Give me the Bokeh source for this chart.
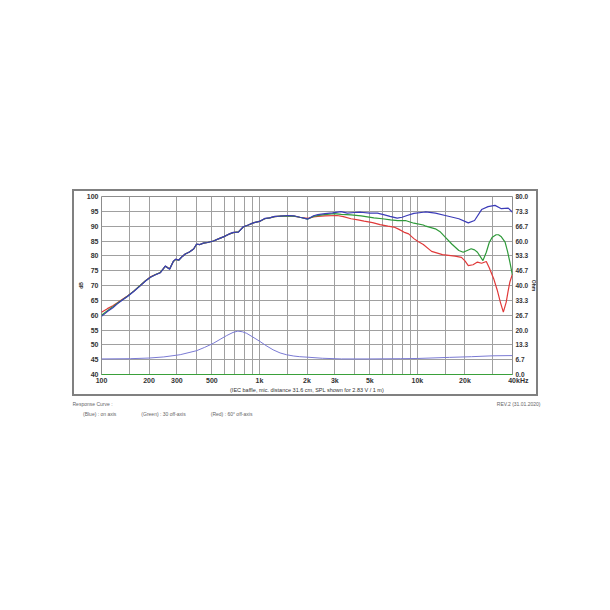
from bokeh.plotting import figure
from bokeh.layouts import column, row
from bokeh.models import (Range1d, LinearAxis, FixedTicker, Label,
                          Legend, LegendItem, NumeralTickFormatter)
from bokeh.embed import file_html
from bokeh.resources import INLINE

# ---------------- data ----------------
freq_on = [100, 109, 118, 126, 135, 146, 160, 175, 190, 204, 220, 236, 254, 262, 270, 285, 295, 308,
           325, 339, 360, 383, 400, 420, 442, 470, 511, 550, 591, 640, 683, 736, 789, 850, 913, 1000,
           1080, 1160, 1250, 1350, 1510, 1650, 1800, 2025, 2200, 2340, 2600, 2900, 3280, 3600, 4000,
           4380, 5000, 5580, 6100, 6700, 7450, 8000, 8600, 9500, 10900, 11300, 13000, 15000, 18300,
           21000, 23000, 25500, 28000, 31000, 34000, 37600, 40000]
spl_on = [59.6, 61.2, 62.5, 63.8, 65.0, 66.3, 68.0, 69.8, 71.5, 72.8, 73.6, 74.3, 76.6, 76.0, 75.5, 78.2,
          78.9, 78.5, 79.8, 80.6, 81.3, 82.3, 84.0, 83.8, 84.3, 84.5, 85.0, 85.7, 86.4, 87.3, 87.9, 88.0,
          89.8, 90.4, 91.1, 91.6, 92.6, 92.8, 93.3, 93.4, 93.6, 93.5, 93.0, 92.4, 93.5, 93.9, 94.2, 94.5,
          94.9, 94.4, 94.6, 94.7, 94.4, 94.4, 93.9, 93.3, 92.7, 93.0, 93.6, 94.3, 94.7, 94.8, 94.4, 93.6,
          92.5, 91.1, 91.9, 95.6, 96.6, 97.0, 95.9, 96.1, 94.7]

freq_30 = [100, 109, 118, 126, 135, 146, 160, 175, 190, 204, 220, 236, 254, 262, 270, 285, 295, 308,
           325, 339, 360, 383, 400, 420, 442, 470, 511, 550, 591, 640, 683, 736, 789, 850, 913, 1000,
           1080, 1160, 1250, 1350, 1510, 1650, 1800, 2025, 2200, 2500, 2970, 3300, 3800, 4400, 5300,
           6000, 6760, 7500, 8400, 9500, 10900, 11300, 13000, 14000, 15000, 16500, 18300, 19500, 21900,
           23000, 24000, 26000, 27300, 28500, 29800, 31500, 32600, 34000, 35900, 37200, 38500, 39800, 40000]
spl_30 = [60.0, 61.5, 62.8, 64.0, 65.1, 66.4, 68.1, 69.9, 71.6, 72.8, 73.7, 74.4, 76.5, 76.0, 75.6, 78.1,
          78.8, 78.5, 79.8, 80.6, 81.3, 82.3, 83.9, 83.8, 84.3, 84.5, 85.0, 85.7, 86.4, 87.3, 87.8, 88.1,
          89.7, 90.4, 91.1, 91.6, 92.5, 92.8, 93.2, 93.4, 93.5, 93.4, 93.0, 92.4, 93.3, 93.8, 94.2, 94.0,
          93.8, 93.5, 92.8, 92.5, 92.1, 91.9, 91.9, 91.0, 90.4, 90.0, 89.1, 88.0, 86.3, 84.0, 81.8, 81.2,
          82.4, 82.0, 81.2, 78.4, 81.2, 84.5, 86.3, 87.1, 87.1, 86.4, 84.6, 81.5, 77.9, 73.9, 73.5]

freq_60 = [100, 109, 118, 126, 135, 146, 160, 175, 190, 204, 220, 236, 254, 262, 270, 285, 295, 308,
           325, 339, 360, 383, 400, 420, 442, 470, 511, 550, 591, 640, 683, 736, 789, 850, 913, 1000,
           1080, 1160, 1250, 1350, 1510, 1650, 1800, 2025, 2200, 2340, 2600, 3100, 3400, 3800, 4200,
           4600, 5200, 5800, 6500, 7100, 7600, 8200, 8800, 9500, 10100, 10900, 12300, 14400, 17300,
           19000, 20000, 21000, 22500, 24000, 25500, 27300, 28500, 30400, 32000, 33500, 35000, 36500,
           37500, 38500, 40000]
spl_60 = [61.0, 62.2, 63.2, 64.2, 65.3, 66.5, 68.1, 69.9, 71.6, 72.9, 73.7, 74.4, 76.5, 76.1, 75.6, 78.1,
          78.8, 78.6, 79.8, 80.6, 81.3, 82.3, 83.9, 83.8, 84.3, 84.5, 85.0, 85.7, 86.4, 87.3, 87.8, 88.1,
          89.7, 90.4, 91.1, 91.6, 92.5, 92.8, 93.2, 93.4, 93.5, 93.4, 93.0, 92.6, 93.1, 93.3, 93.5, 93.6,
          93.2, 92.5, 92.1, 91.7, 91.2, 90.5, 90.0, 89.7, 89.0, 88.0, 87.4, 85.8, 84.8, 83.8, 81.5, 80.4,
          79.9, 79.5, 78.3, 76.7, 77.0, 77.9, 77.5, 78.1, 76.0, 72.3, 68.5, 64.4, 61.0, 64.4, 68.0, 71.2,
          73.9]

freq_imp = [100, 152, 200, 248, 315, 400, 450, 510, 570, 620, 680, 730, 780, 830, 900, 1000, 1100, 1220,
            1350, 1480, 1650, 1800, 2000, 2500, 3300, 5000, 7800, 10000, 16000, 22000, 30000, 40000]
imp_ohm = [7.0, 7.1, 7.4, 7.9, 8.9, 10.7, 12.2, 14.0, 16.0, 17.5, 18.9, 19.5, 19.2, 18.5, 17.0, 15.0,
           13.0, 11.1, 9.7, 8.9, 8.3, 8.0, 7.8, 7.3, 7.0, 7.0, 7.1, 7.2, 7.7, 8.0, 8.4, 8.5]

freq_ticks = [100, 200, 300, 500, 1000, 2000, 3000, 5000, 10000, 20000, 40000]
freq_tick_labels = ["100", "200", "300", "500", "1k", "2k", "3k", "5k", "10k", "20k",
                    "\u00a0\u00a0\u00a0\u00a0\u00a0\u00a040kHz"]
grid_freqs = [100, 150, 200, 300, 400, 500, 600, 700, 800, 900, 1000, 1500, 2000, 3000, 4000, 5000,
              6000, 7000, 8000, 9000, 10000, 15000, 20000, 30000, 40000]
db_ticks = [40, 45, 50, 55, 60, 65, 70, 75, 80, 85, 90, 95, 100]
ohm_ticks = [0.0, 6.667, 13.333, 20.0, 26.667, 33.333, 40.0, 46.667, 53.333, 60.0, 66.667, 73.333, 80.0]

caption = "(IEC baffle, mic. distance 31.6 cm, SPL shown for 2.83 V / 1 m)"
footer_left = "Response Curve :"
footer_right = "REV.2 (31.01.2020)"
legend_labels = ["(Blue) : on axis", "(Green) : 30 off-axis", "(Red) : 60\u00b0 off-axis"]

# ---------------- layout (page pixels) ----------------
BOX_L, BOX_T, BOX_R, BOX_B = 72, 189, 538, 396   # outer grey box (CSS border)
BW = 2
W, H = BOX_R - BOX_L, BOX_B - BOX_T
FL, FR, FT, FB = 99, 513, 196, 374               # plot frame edges on the page
CX0, CY0 = BOX_L + BW, BOX_T + BW                # canvas origin (inside the border)

FONT = "Liberation Sans"
BLUE, GREEN, RED, IMP = "#3c3cb8", "#2f9a3a", "#e03a3a", "#7a7ad4"

p = figure(width=W, height=H, x_axis_type="log",
           x_range=Range1d(100, 40000), y_range=Range1d(40, 100),
           output_backend="svg", toolbar_location=None,
           min_border_left=FL - CX0, min_border_right=CX0 + W - FR,
           min_border_top=FT - CY0, min_border_bottom=CY0 + H - FB,
           styles={"border": f"{BW}px solid #808080"})
p.extra_y_ranges = {"ohm": Range1d(0, 80)}
p.background_fill_color = "white"
p.border_fill_color = "white"
p.outline_line_color = "#8c8c8c"
p.outline_line_width = 1

# grids
p.xgrid.ticker = FixedTicker(ticks=grid_freqs)
p.ygrid.ticker = FixedTicker(ticks=db_ticks)
for g in (p.xgrid, p.ygrid):
    g.grid_line_color = "#a0a0a0"
    g.grid_line_width = 1

# x axis (caption as its label)
xa = p.xaxis[0]
xa.ticker = FixedTicker(ticks=freq_ticks)
xa.major_label_overrides = {f: t for f, t in zip(freq_ticks, freq_tick_labels)}
xa.axis_line_color = "#3aa03a"
xa.major_tick_line_color = None
xa.minor_tick_line_color = None
xa.major_tick_out = 0
xa.major_label_standoff = 2
xa.major_label_text_font = FONT
xa.major_label_text_font_size = "7px"
xa.major_label_text_font_style = "bold"
xa.major_label_text_color = "#333333"
xa.axis_label = caption
xa.axis_label_standoff = 0
xa.axis_label_text_font = FONT
xa.axis_label_text_font_size = "5.5px"
xa.axis_label_text_font_style = "normal"
xa.axis_label_text_color = "#333333"

# left axis
ya = p.yaxis[0]
ya.ticker = FixedTicker(ticks=db_ticks)
ya.axis_line_color = None
ya.major_tick_line_color = None
ya.major_tick_out = 0
ya.major_tick_in = 0
ya.minor_tick_line_color = None
ya.major_label_standoff = 3
ya.major_label_text_font = FONT
ya.major_label_text_font_size = "7px"
ya.major_label_text_font_style = "bold"
ya.major_label_text_color = "#333333"
ya.axis_label = "dB"
ya.axis_label_standoff = 0
ya.axis_label_text_font = FONT
ya.axis_label_text_font_size = "5px"
ya.axis_label_text_font_style = "bold"
ya.axis_label_text_color = "#333333"

# right axis (impedance)
ra = LinearAxis(y_range_name="ohm", ticker=FixedTicker(ticks=ohm_ticks),
                formatter=NumeralTickFormatter(format="0.0"))
ra.axis_line_color = None
ra.major_tick_line_color = None
ra.major_tick_out = 0
ra.major_tick_in = 0
ra.minor_tick_line_color = None
ra.major_label_standoff = 3
ra.major_label_text_font = FONT
ra.major_label_text_font_size = "6.5px"
ra.major_label_text_font_style = "bold"
ra.major_label_text_color = "#333333"
ra.axis_label = "Ohm"
ra.axis_label_standoff = 0
ra.axis_label_text_font = FONT
ra.axis_label_text_font_size = "5px"
ra.axis_label_text_font_style = "bold"
ra.axis_label_text_color = "#333333"
p.add_layout(ra, "right")

# curves
r_imp = p.line(freq_imp, imp_ohm, y_range_name="ohm", line_color=IMP, line_width=1)
r60 = p.line(freq_60, spl_60, line_color=RED, line_width=1.2)
r30 = p.line(freq_30, spl_30, line_color=GREEN, line_width=1.2)
r0 = p.line(freq_on, spl_on, line_color=BLUE, line_width=1.2)

# ---------------- footer (legend row) ----------------
FW, FH = 470, 30
FY0 = BOX_B                      # footer canvas top on the page
f = figure(width=FW, height=FH, x_range=Range1d(0, 1), y_range=Range1d(0, 1),
           output_backend="svg", toolbar_location=None,
           min_border_left=0, min_border_right=0, min_border_top=0, min_border_bottom=0,
           x_axis_location=None, y_axis_location=None)
f.outline_line_color = None
f.grid.visible = False
f.background_fill_color = "white"
f.border_fill_color = "white"


def fy(py):
    return FY0 + FH - py


f.add_layout(Label(x=0, y=fy(403), x_units="screen", y_units="screen", text=footer_left,
                   text_align="left", text_baseline="middle", text_font=FONT,
                   text_font_size="5px", text_color="#666666"))
f.add_layout(Label(x=540 - BOX_L, y=fy(403), x_units="screen", y_units="screen", text=footer_right,
                   text_align="right", text_baseline="middle", text_font=FONT,
                   text_font_size="5px", text_color="#666666"))

lb = f.line([], [], line_color=BLUE, line_width=1)
lg = f.line([], [], line_color=GREEN, line_width=1)
lr = f.line([], [], line_color=RED, line_width=1)
legend = Legend(items=[LegendItem(label=legend_labels[0], renderers=[lb]),
                       LegendItem(label=legend_labels[1], renderers=[lg]),
                       LegendItem(label=legend_labels[2], renderers=[lr])],
                orientation="horizontal", location=(0, fy(417)),
                margin=0, padding=0, spacing=14, label_standoff=3,
                glyph_width=8, glyph_height=7, label_height=7,
                label_text_font=FONT, label_text_font_size="5px", label_text_color="#666666",
                background_fill_alpha=0, border_line_color=None)
f.add_layout(legend)

layout = column(p, row(f), spacing=0)
layout.margin = (BOX_T, 0, 0, BOX_L)
open("out.html", "w").write(file_html(layout, INLINE))
